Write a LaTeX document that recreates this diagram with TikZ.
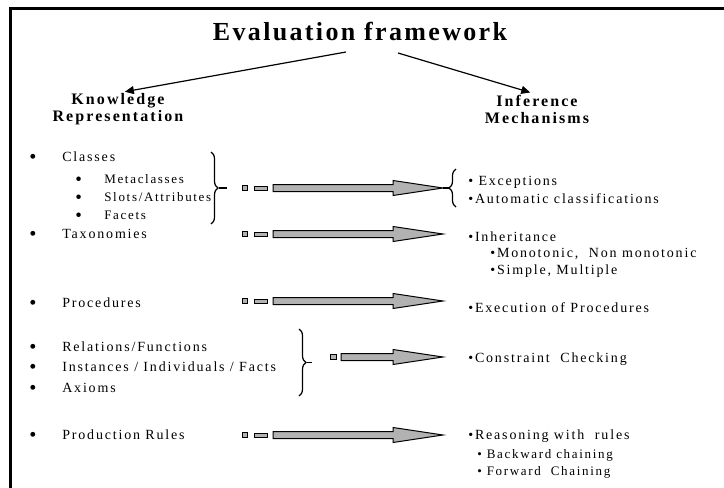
\documentclass[tikz,border=0pt]{standalone}
\usepackage{graphicx}
\usepackage{fontspec}
\setmainfont{Liberation Serif}
\newfontfamily\spacedfont[LetterSpace=13]{Liberation Serif}
\newfontfamily\titlefont[LetterSpace=9]{Liberation Serif}
\usetikzlibrary{arrows.meta, positioning, calc, decorations.pathreplacing}

% large bullet of the left column
\newcommand\kbul{\raisebox{-0.15em}{\scalebox{1.45}{\textbullet}}}
% fat grey arrow between two named points (start of shaft, tip)
\newcommand\fatarrow[2]{%
  \draw[fat] ($(#1)+(0,-3.5)$) -- ($(#2)+(-50,-3.5)$) -- ($(#2)+(-50,-7.5)$)
    -- (#2) -- ($(#2)+(-50,7.5)$) -- ($(#2)+(-50,3.5)$) -- ($(#1)+(0,3.5)$) -- cycle;}
% the two little boxes in front of a shaft
\newcommand\leadboxes[1]{%
  \draw[fat] ($(#1)+(-31,-2.5)$) rectangle ++(5,5);
  \draw[fat] ($(#1)+(-19,-2)$) rectangle ++(13,4);}

\begin{document}
\begin{tikzpicture}
            [x=1pt, y=-1pt, semithick,
            title/.style={font=\titlefont\fontsize{26}{30}\selectfont\bfseries, inner sep=0pt},
            head/.style={font=\spacedfont\fontsize{16}{17}\selectfont\bfseries, align=center, inner sep=0pt},
            kitem/.style={font=\spacedfont\fontsize{14}{16}\selectfont, anchor=west, inner sep=0pt},
            ksub/.style={font=\spacedfont\fontsize{13}{15}\selectfont, anchor=west, inner sep=0pt},
            fat/.style={draw=black, fill=gray!60, line width=1pt},
            brace/.style={decorate, decoration={brace, amplitude=7pt}, line width=1.2pt},
            link/.style={-{Triangle[length=9pt, width=8pt]}, line width=1.2pt, shorten >=7pt}]
            \useasboundingbox (0,0) rectangle (724,488);
            % frame
            \draw[line width=3pt] (724,8.5) -- (10,8.5) -- (10,488);
            % heading
            \node[title] (title) at (360,32) {Evaluation framework};
            \node[head] (kr) at (118,109) {Knowledge\\Representation};
            \node[head] (im) at (537,109) {Inference\\Mechanisms};
            \coordinate (ts1) at (346,52);
            \coordinate (ts2) at (398,53);
            \draw[link] (ts1) -- (kr.north);
            \draw[link] (ts2) -- (im.north);
            % knowledge representation
            \node[kitem] (classes) at (29,158) {\makebox[33pt][l]{\kbul}Classes};
            \node[ksub]  (meta)    at (75,180) {\makebox[29pt][l]{\kbul}Metaclasses};
            \node[ksub]  (slots)   at (75,198) {\makebox[29pt][l]{\kbul}Slots/Attributes};
            \node[ksub]  (facets)  at (75,216) {\makebox[29pt][l]{\kbul}Facets};
            \node[kitem] (taxo)    at (29,235) {\makebox[33pt][l]{\kbul}Taxonomies};
            \node[kitem] (proc)    at (29,304) {\makebox[33pt][l]{\kbul}Procedures};
            \node[kitem] (rel)     at (29,348) {\makebox[33pt][l]{\kbul}Relations/Functions};
            \node[kitem] (inst)    at (29,368) {\makebox[33pt][l]{\kbul}Instances / Individuals / Facts};
            \node[kitem] (axioms)  at (29,389) {\makebox[33pt][l]{\kbul}Axioms};
            \node[kitem] (prod)    at (29,436) {\makebox[33pt][l]{\kbul}Production Rules};
            % inference mechanisms
            \node[kitem] (exc)     at (468,182) {\textbullet\ Exceptions};
            \node[kitem] (auto)    at (468,199) {\textbullet Automatic classifications};
            \node[kitem] (inh)     at (468,237) {\textbullet Inheritance};
            \node[kitem] (mono)    at (490,254) {\textbullet Monotonic,\ \ Non monotonic};
            \node[kitem] (simple)  at (490,271) {\textbullet Simple, Multiple};
            \node[kitem] (exec)    at (468,308) {\textbullet Execution of Procedures};
            \node[kitem] (constr)  at (468,359) {\textbullet Constraint\ \ Checking};
            \node[kitem] (reason)  at (468,436) {\textbullet Reasoning with\ \ rules};
            \node[ksub]  (back)    at (477,455) {\textbullet\ Backward chaining};
            \node[ksub]  (fwd)     at (477,472) {\textbullet\ Forward\ \ Chaining};
            % braces
            \draw[brace] (211,152) -- (211,224) coordinate[pos=0.5] (b1);
            \draw[line width=1.2pt] ($(b1)+(8,0)$) -- ++(8,0);
            \draw[brace] (299,329) -- (299,396) coordinate[pos=0.5] (b2);
            \draw[line width=1.2pt] ($(b2)+(8,0)$) -- ++(5,0);
            \draw[brace] (456,207) -- (456,169);
            % arrows
            \coordinate (a1s) at (273,188);   \coordinate (a1e) at (443,188);
            \coordinate (a2s) at (273,234);   \coordinate (a2e) at (443,234);
            \coordinate (a3s) at (273,301);   \coordinate (a3e) at (443,301);
            \coordinate (a4s) at (341,357);   \coordinate (a4e) at (443,357);
            \coordinate (a5s) at (273,435);   \coordinate (a5e) at (443,435);
            \draw[line width=1.2pt] (a1e) -- ++(6,0);
            \leadboxes{a1s} \fatarrow{a1s}{a1e}
            \leadboxes{a2s} \fatarrow{a2s}{a2e}
            \leadboxes{a3s} \fatarrow{a3s}{a3e}
            \draw[fat] ($(a4s)+(-11,-2.5)$) rectangle ++(6,5);
            \fatarrow{a4s}{a4e}
            \leadboxes{a5s} \fatarrow{a5s}{a5e}
        \end{tikzpicture}
\end{document}
